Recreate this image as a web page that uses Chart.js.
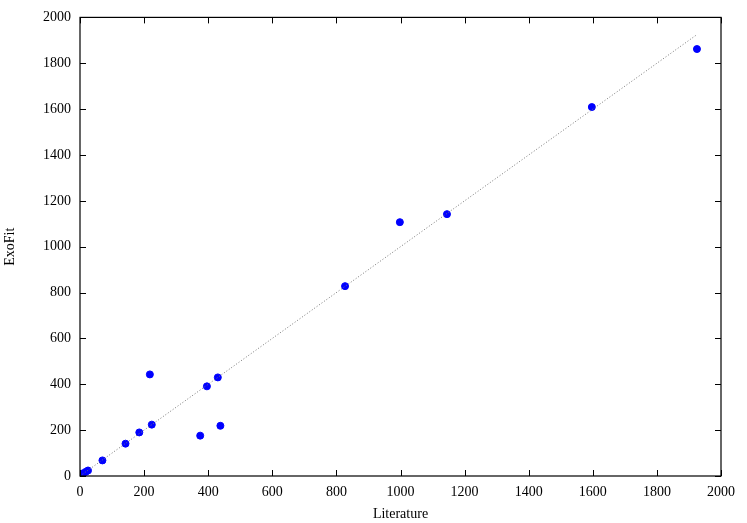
<!DOCTYPE html>
<html lang="en">
<head>
<meta charset="UTF-8">
<title>ExoFit vs Literature</title>
<script src="https://cdn.jsdelivr.net/npm/chart.js"></script>
<style>
  html, body { margin: 0; padding: 0; background: #fff; }
  #wrap { width: 747px; height: 523px; }
</style>
</head>
<body>
<div id="wrap"><canvas id="chart" width="747" height="523"></canvas></div>
<script>
// values
const literature = [0, 10, 18, 25, 70, 142, 185, 224, 375, 438, 218, 396, 430, 827, 998, 1145, 1597, 1925];
const exofit     = [0, 12, 18, 24, 68, 141, 190, 224, 176, 219, 443, 391, 430, 828, 1107, 1142, 1609, 1862];
const fitLineX = [0, 1925];
const fitLineY = [0, 1925];
const axisMin = 0;
const axisMax = 2000;
const tickStep = 200;

const points = literature.map((x, i) => ({ x: x, y: exofit[i] }));
const fitLine = fitLineX.map((x, i) => ({ x: x, y: fitLineY[i] }));

const serif = "'Liberation Serif', 'DejaVu Serif', serif";

// box around the plot and inward tick marks on all four sides
const frame = {
  id: "frame",
  afterDraw(chart) {
    const ctx = chart.ctx;
    const a = chart.chartArea;
    const xs = chart.scales.x, ys = chart.scales.y;
    ctx.save();
    ctx.strokeStyle = "#000";
    ctx.lineWidth = 1;
    ctx.beginPath();
    xs.ticks.forEach(t => {
      const px = Math.round(xs.getPixelForValue(t.value)) + 0.5;
      ctx.moveTo(px, a.bottom); ctx.lineTo(px, a.bottom - 6);
      ctx.moveTo(px, a.top); ctx.lineTo(px, a.top + 6);
    });
    ys.ticks.forEach(t => {
      const py = Math.round(ys.getPixelForValue(t.value)) + 0.5;
      ctx.moveTo(a.left, py); ctx.lineTo(a.left + 6, py);
      ctx.moveTo(a.right, py); ctx.lineTo(a.right - 6, py);
    });
    ctx.stroke();
    ctx.lineWidth = 1.2;
    ctx.strokeRect(a.left, a.top, a.right - a.left, a.bottom - a.top);
    ctx.restore();
  }
};

new Chart(document.getElementById("chart"), {
  type: "scatter",
  data: {
    datasets: [
      {
        type: "line",
        label: "fit",
        data: fitLine,
        borderColor: "#777",
        borderWidth: 1,
        borderDash: [1, 2],
        pointRadius: 0,
        fill: false
      },
      {
        label: "ExoFit",
        data: points,
        backgroundColor: "#0000ff",
        borderColor: "#0000ff",
        pointRadius: 3.5,
        pointHoverRadius: 3.5
      }
    ]
  },
  options: {
    responsive: false,
    animation: false,
    layout: { padding: { top: 17, right: 26, left: 0, bottom: 0 } },
    plugins: { legend: { display: false }, tooltip: { enabled: false } },
    scales: {
      x: {
        type: "linear",
        min: axisMin,
        max: axisMax,
        grid: { display: false, drawTicks: false },
        border: { display: false },
        ticks: {
          stepSize: tickStep,
          padding: 8,
          color: "#000",
          font: { family: serif, size: 14 },
          callback: v => String(v)
        },
        title: {
          display: true,
          text: "Literature",
          color: "#000",
          padding: { top: 1, bottom: 0 },
          font: { family: serif, size: 14 }
        },
        afterFit(scale) { scale.height = 47; }
      },
      y: {
        type: "linear",
        min: axisMin,
        max: axisMax,
        grid: { display: false, drawTicks: false },
        border: { display: false },
        ticks: {
          stepSize: tickStep,
          padding: 9,
          color: "#000",
          font: { family: serif, size: 14 },
          callback: v => String(v)
        },
        title: {
          display: true,
          text: "ExoFit",
          color: "#000",
          padding: { top: 2, bottom: 4 },
          font: { family: serif, size: 14 }
        },
        afterFit(scale) { scale.width = 80; }
      }
    }
  },
  plugins: [frame]
});
</script>
</body>
</html>
